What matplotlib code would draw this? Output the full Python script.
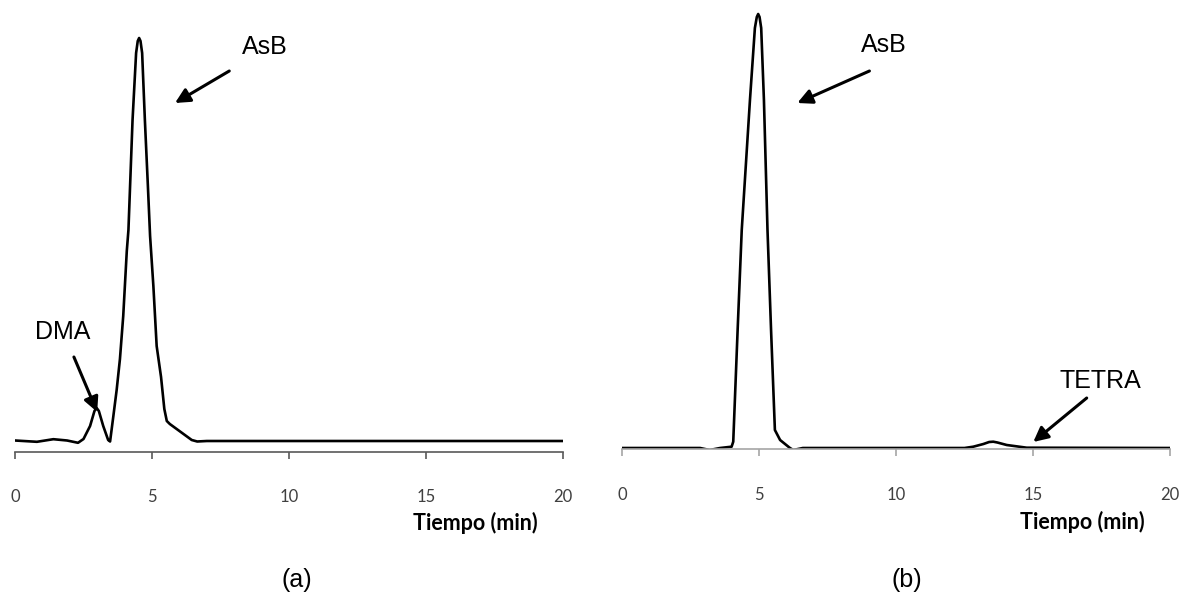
import matplotlib
matplotlib.use("Agg")
import matplotlib.pyplot as plt

# ── Data (signal in arbitrary units) ─────────────────────────────────────────
time_a = [0.0, 0.8, 1.4, 1.9, 2.3, 2.5, 2.74, 2.9, 2.98, 3.06, 3.22, 3.4, 3.47,
          3.59, 3.71, 3.83, 3.95, 4.08, 4.14, 4.29, 4.42, 4.48, 4.53, 4.58,
          4.64, 4.74, 4.85, 4.93, 5.05, 5.17, 5.33, 5.45, 5.54, 5.65, 5.8,
          5.95, 6.2, 6.45, 6.65, 7.0, 20.0]
signal_a = [0.5, -0.8, 1.8, 0.5, -1.8, 2, 15, 30, 33, 30, 15, 1, -0.5,
            25, 51, 82, 125, 190, 211, 321, 388, 400, 403, 400,
            388, 321, 255, 205, 155, 95, 64, 32, 20, 17, 14,
            11, 6, 1, -0.5, 0, 0]

time_b = [0.0, 2.85, 3.2, 3.58, 4.0, 4.06, 4.22, 4.37, 4.67, 4.85, 4.92, 4.97,
          5.02, 5.08, 5.18, 5.31, 5.44, 5.58, 5.77, 6.13, 6.25, 6.6, 12.5,
          12.82, 13.19, 13.4, 13.55, 13.7, 14.04, 14.77, 20.0]
signal_b = [0, 0, -2, 0, 1.3, 6.3, 118, 218, 348, 420, 431, 434,
            431, 420, 348, 218, 118, 18, 8, 0, -2, 0, 0,
            1.3, 4, 6, 6.3, 5.5, 3, 0.3, 0]

x_ticks = [0, 5, 10, 15, 20]
x_label = "Tiempo (min)"

# ── Figure ───────────────────────────────────────────────────────────────────
W, H = 1184, 603
fig = plt.figure(figsize=(W / 100, H / 100), dpi=100)
fig.patch.set_facecolor("white")


def px_axes(left, top, right, bottom):
    return fig.add_axes([left / W, 1 - bottom / H, (right - left) / W, (bottom - top) / H])


def style_axis(ax, spine_color):
    for s in ("left", "top", "right"):
        ax.spines[s].set_visible(False)
    ax.spines["bottom"].set_color(spine_color)
    ax.spines["bottom"].set_linewidth(1.2)
    ax.set_yticks([])
    ax.set_xlim(0, 20)
    ax.set_xticks(x_ticks)
    ax.set_xticklabels([str(t) for t in x_ticks], family="Lato", fontsize=12, color="#404040")
    ax.tick_params(axis="x", direction="out", length=5, width=1.2, color=spine_color, pad=22)
    ax.text(0.953, -0.165, x_label, transform=ax.transAxes, ha="right", va="center",
            family="Lato", fontweight="bold", fontsize=15.5, color="black")


arrow = dict(arrowstyle="-|>", lw=2.2, color="black", mutation_scale=22, shrinkA=0, shrinkB=0)
label_font = dict(family="Liberation Sans", fontsize=18, ha="center", va="center")

# (a)
ax_a = px_axes(15, 20, 563, 452)
ax_a.plot(time_a, signal_a, color="black", lw=1.9)
ax_a.set_ylim(-11, 421)
style_axis(ax_a, "#595959")
ax_a.annotate("", xy=(5.84, 338), xytext=(7.82, 370), arrowprops=arrow)
ax_a.text(9.12, 394, "AsB", **label_font)
ax_a.annotate("", xy=(3.0, 29), xytext=(2.15, 84), arrowprops=arrow)
ax_a.text(1.73, 109, "DMA", **label_font)

# (b)
ax_b = px_axes(622, 5, 1170, 449)
ax_b.plot(time_b, signal_b, color="black", lw=1.9)
ax_b.set_ylim(-1, 443)
style_axis(ax_b, "#a6a6a6")
ax_b.annotate("", xy=(6.40, 345), xytext=(9.03, 377), arrowprops=arrow)
ax_b.text(9.54, 403, "AsB", **label_font)
ax_b.annotate("", xy=(15.01, 6), xytext=(16.96, 50), arrowprops=arrow)
ax_b.text(17.45, 67, "TETRA", **label_font)

fig.text(297 / W, 1 - 580 / H, "(a)", ha="center", va="center", family="Liberation Sans", fontsize=18)
fig.text(907 / W, 1 - 580 / H, "(b)", ha="center", va="center", family="Liberation Sans", fontsize=18)

fig.savefig("out.png", dpi=100, facecolor="white")
